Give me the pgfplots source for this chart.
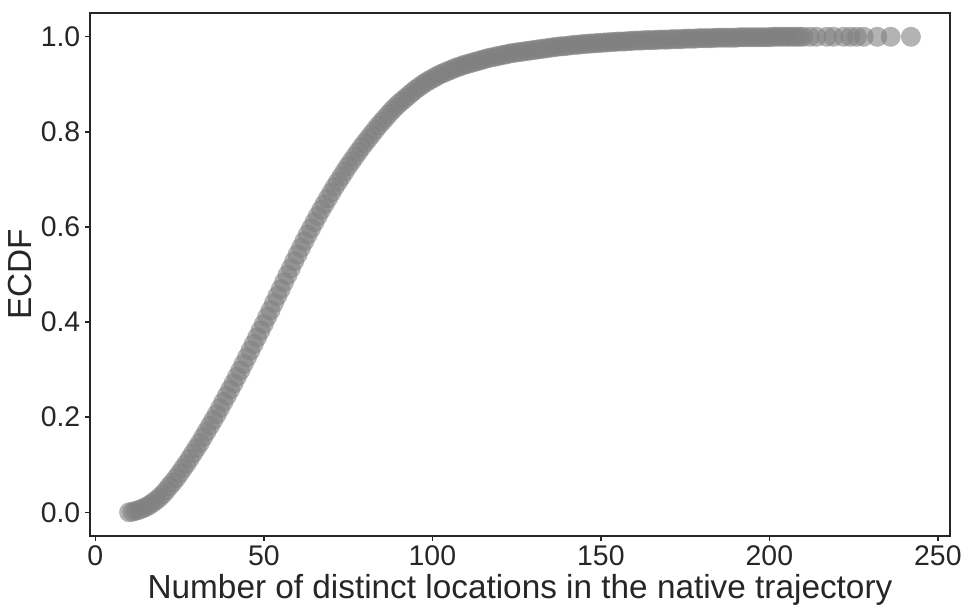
\documentclass[border=0pt]{standalone}
\usepackage{fontspec}
\setmainfont{Liberation Sans}
\usepackage{pgfplots}
\pgfplotsset{compat=1.18}
\definecolor{axgray}{gray}{0.15}

\pgfplotstableread{
x y
10 0.000
11 0.001
12 0.003
13 0.005
14 0.008
15 0.011
16 0.015
17 0.020
18 0.025
19 0.031
20 0.038
21 0.046
22 0.055
23 0.063
24 0.072
25 0.082
26 0.092
27 0.102
28 0.113
29 0.124
30 0.135
31 0.146
32 0.158
33 0.170
34 0.182
35 0.194
36 0.206
37 0.219
38 0.232
39 0.245
40 0.258
41 0.271
42 0.285
43 0.298
44 0.312
45 0.326
46 0.340
47 0.354
48 0.368
49 0.382
50 0.396
51 0.411
52 0.425
53 0.440
54 0.455
55 0.469
56 0.484
57 0.499
58 0.513
59 0.528
60 0.542
61 0.556
62 0.570
63 0.584
64 0.597
65 0.610
66 0.623
67 0.636
68 0.648
69 0.660
70 0.672
71 0.684
72 0.695
73 0.706
74 0.717
75 0.728
76 0.738
77 0.748
78 0.758
79 0.768
80 0.777
81 0.786
82 0.795
83 0.804
84 0.813
85 0.821
86 0.829
87 0.837
88 0.845
89 0.852
90 0.859
91 0.865
92 0.871
93 0.877
94 0.883
95 0.889
96 0.894
97 0.899
98 0.904
99 0.908
100 0.912
101 0.916
102 0.920
103 0.923
104 0.926
105 0.929
106 0.932
107 0.935
108 0.937
109 0.940
110 0.942
111 0.944
112 0.946
113 0.948
114 0.950
115 0.952
116 0.954
117 0.956
118 0.957
119 0.959
120 0.960
121 0.962
122 0.963
123 0.965
124 0.966
125 0.967
126 0.968
127 0.969
128 0.970
129 0.971
130 0.972
131 0.973
132 0.974
133 0.975
134 0.976
135 0.977
136 0.978
137 0.979
138 0.980
139 0.980
140 0.981
141 0.982
142 0.983
143 0.983
144 0.984
145 0.985
146 0.985
147 0.986
148 0.986
149 0.987
150 0.987
151 0.988
152 0.988
153 0.989
154 0.989
155 0.990
156 0.990
157 0.990
158 0.991
159 0.991
160 0.992
161 0.992
162 0.992
163 0.993
164 0.993
165 0.993
166 0.993
167 0.994
168 0.994
169 0.994
170 0.994
171 0.995
172 0.995
173 0.995
174 0.995
175 0.996
176 0.996
177 0.996
178 0.996
179 0.997
180 0.997
181 0.997
182 0.997
183 0.997
184 0.998
185 0.998
186 0.998
187 0.998
188 0.998
189 0.998
190 0.998
191 0.999
192 0.999
193 0.999
194 0.999
195 0.999
196 0.999
197 0.999
198 0.999
199 0.999
200 0.999
201 1.000
202 1.000
203 1.000
204 1.000
205 1.000
206 1.000
207 1.000
208 1.000
209 1.000
210 1.000
212 1.000
214 1.000
217 1.000
219 1.000
222 1.000
224 1.000
226 1.000
228 1.000
232 1.000
236 1.000
242 1.000
}\ecdf

\begin{document}
\begin{tikzpicture}
\path[use as bounding box] (-67.5pt,-58.5pt) rectangle (659.25pt,402pt);
\begin{axis}[
    at={(0,0)}, anchor=south west,
    scale only axis,
    width=645pt, height=392.25pt,
    xmin=-1.6, xmax=253.6,
    ymin=-0.05, ymax=1.05,
    xtick={0,50,100,150,200,250},
    ytick={0,0.2,0.4,0.6,0.8,1.0},
    yticklabel style={/pgf/number format/fixed,/pgf/number format/fixed zerofill,/pgf/number format/precision=1},
    /pgf/number format/assume math mode=true,
    tick align=outside,
    major tick length=3.75pt,
    tick style={axgray, line width=1pt},
    axis line style={axgray, line width=1.4pt},
    xtick pos=bottom, ytick pos=left,
    ticklabel style={font=\fontsize{21.3}{24}\selectfont, text=axgray},
    label style={font=\fontsize{25}{29}\selectfont, text=axgray},
    xlabel={Number of distinct locations in the native trajectory},
    ylabel={ECDF},
    xlabel style={at={(axis description cs:0.5,-0.119)}, anchor=base},
    ylabel style={at={(axis description cs:-0.0678,0.5)}, anchor=base},
]
\addplot[only marks, mark=*, mark size=7.5pt, color=gray,
    mark options={draw opacity=0, fill=gray, fill opacity=0.6}] table {\ecdf};
\end{axis}
\end{tikzpicture}
\end{document}
